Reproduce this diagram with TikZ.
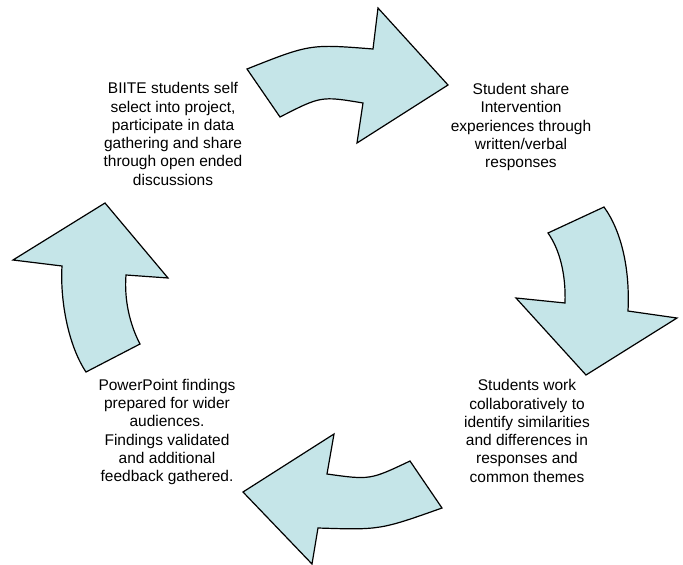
\documentclass[tikz,border=0pt]{standalone}
\usepackage{fontspec}
\setmainfont{Liberation Sans}
\usetikzlibrary{positioning}
\definecolor{arrowfill}{RGB}{197,229,232}

\begin{document}
\begin{tikzpicture}[x=1pt, y=-1pt,
    cyclearrow/.style={draw=black, line width=1.2pt, line join=miter, fill=arrowfill},
    steptext/.style={align=center, inner sep=0pt, font=\fontsize{15.5}{18.3}\selectfont}]
    \useasboundingbox (0,0) rectangle (683,565);

    % Top arrow
    \draw[cyclearrow] (247,69) .. controls (310,44) .. (373,49) -- (378,8) -- (448,85)
        -- (357,143) -- (363,103) .. controls (321,96) .. (280,117) -- cycle;

    % Right arrow
    \draw[cyclearrow] (548,233) -- (604,207) .. controls (622,232) and (630,270) .. (628,311)
        -- (677,318) -- (586,375) -- (516,298) -- (565,303)
        .. controls (566,275) and (560,250) .. cycle;

    % Bottom arrow
    \draw[cyclearrow] (410,461) -- (442,508) .. controls (380,530) .. (318,528) -- (312,564)
        -- (243,492) -- (334,434) -- (327,474) .. controls (370,480) .. cycle;

    % Left arrow
    \draw[cyclearrow] (86,372) .. controls (68,345) and (60,300) .. (62,266) -- (13,260)
        -- (105,203) -- (168,278) -- (126,275) .. controls (124,300) and (130,325) .. (140,344)
        -- cycle;

    % Steps
    \node[steptext] (select) at (173,134) {BIITE students self\\select into project,\\participate in data\\gathering and share\\through open ended\\discussions};
    \node[steptext] (share) at (521,127) {Student share\\Intervention\\experiences through\\written/verbal\\responses};
    \node[steptext] (compare) at (527,431) {Students work\\collaboratively to\\identify similarities\\and differences in\\responses and\\common themes};
    \node[steptext] (present) at (167,432) {PowerPoint findings\\prepared for wider\\audiences.\\Findings validated\\and additional\\feedback gathered.};
\end{tikzpicture}
\end{document}
